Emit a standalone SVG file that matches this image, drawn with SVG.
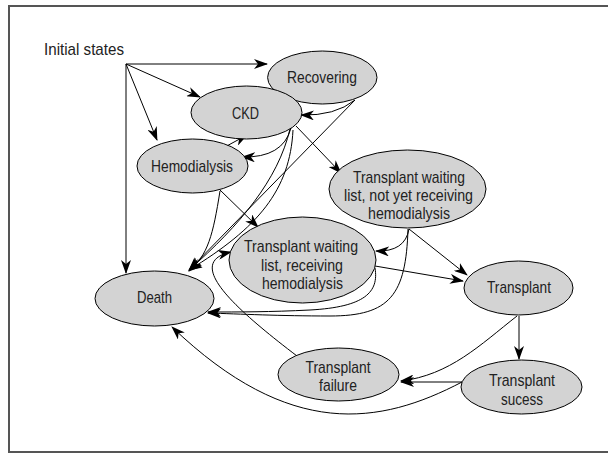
<svg xmlns="http://www.w3.org/2000/svg" width="608" height="455" viewBox="0 0 608 455">
<style>
.n ellipse{fill:#d3d3d3;stroke:#000;stroke-width:1}
text{font-family:"Liberation Sans",Arial,sans-serif;font-size:17px;fill:#222;text-anchor:middle}
.e path{fill:none;stroke:#000;stroke-width:1;marker-end:url(#ah)}
</style>
<defs>
<marker id="ah" viewBox="0 0 14 10" refX="13" refY="5" markerWidth="14" markerHeight="10" markerUnits="userSpaceOnUse" orient="auto">
<path d="M0,0 L14,5 L0,10 L4,5 Z" fill="#000"/>
</marker>
</defs>
<rect x="9" y="6" width="602" height="446" fill="#fff" stroke="#555" stroke-width="2"/>
<text id="initial" x="44" y="55" textLength="80" lengthAdjust="spacingAndGlyphs" style="text-anchor:start">Initial states</text>
<g class="e" id="connectors">
<path d="M126,64 L267,64"/>
<path d="M126,64 L200,97"/>
<path d="M126,64 L157,140"/>
<path d="M126,64 L126,273"/>
<path d="M279,107 L312,87"/>
<path d="M355,100 Q335,116 301,115"/>
<path d="M212,154 L247,135"/>
<path d="M291,128 Q283,158 242,157"/>
<path d="M296,126 L341,173"/>
<path d="M355,100 L189,270"/>
<path d="M290,129 C278,180 240,225 189,270"/>
<path d="M293,130 C290,190 258,228 189,270"/>
<path d="M220,191 C213,235 208,255 189,271"/>
<path d="M220,190 L258,227"/>
<path d="M409,229 Q405,252 376,251"/>
<path d="M409,229 L467,275"/>
<path d="M375,266 L463,281"/>
<path d="M408,229 C406,295 390,316 330,316 C280,316 240,314 208,313"/>
<path d="M375,268 C379,292 365,307 310,310 C270,312 240,312 208,312"/>
<path d="M519,316 L519,359"/>
<path d="M517,316 C480,345 450,375 401,381"/>
<path d="M462,382 L401,382"/>
<path d="M462,382 C380,425 290,440 172,327"/>
<path d="M297,356 C230,305 185,262 231,252"/>
</g>
<g class="n" id="recovering"><ellipse cx="322.3" cy="77.5" rx="54.7" ry="26.5"/><text x="322" y="83" textLength="70" lengthAdjust="spacingAndGlyphs">Recovering</text></g>
<g class="n" id="ckd"><ellipse cx="246.5" cy="112.5" rx="55.5" ry="26.5"/><text x="245.5" y="119" textLength="27" lengthAdjust="spacingAndGlyphs">CKD</text></g>
<g class="n" id="hemodialysis"><ellipse cx="192.5" cy="166" rx="55.5" ry="27"/><text x="192" y="172" textLength="82" lengthAdjust="spacingAndGlyphs">Hemodialysis</text></g>
<g class="n" id="twl-not-yet"><ellipse cx="407.5" cy="189" rx="78.5" ry="39"/>
<text x="409" y="183" textLength="112" lengthAdjust="spacingAndGlyphs">Transplant waiting</text>
<text x="408.5" y="201" textLength="129" lengthAdjust="spacingAndGlyphs">list, not yet receiving</text>
<text x="409" y="219" textLength="82" lengthAdjust="spacingAndGlyphs">hemodialysis</text></g>
<g class="n" id="twl-receiving"><ellipse cx="302.5" cy="260" rx="73.5" ry="43"/>
<text x="301" y="252" textLength="114" lengthAdjust="spacingAndGlyphs">Transplant waiting</text>
<text x="302" y="270.5" textLength="82" lengthAdjust="spacingAndGlyphs">list, receiving</text>
<text x="302.5" y="289" textLength="81" lengthAdjust="spacingAndGlyphs">hemodialysis</text></g>
<g class="n" id="transplant"><ellipse cx="518.5" cy="288" rx="54.5" ry="27"/><text x="519" y="293" textLength="64" lengthAdjust="spacingAndGlyphs">Transplant</text></g>
<g class="n" id="success"><ellipse cx="521.5" cy="387" rx="60.5" ry="27"/>
<text x="522" y="386" textLength="66" lengthAdjust="spacingAndGlyphs">Transplant</text>
<text x="522" y="405" textLength="42" lengthAdjust="spacingAndGlyphs">sucess</text></g>
<g class="n" id="failure"><ellipse cx="338.5" cy="374.5" rx="60.5" ry="26.5"/>
<text x="338" y="373" textLength="65" lengthAdjust="spacingAndGlyphs">Transplant</text>
<text x="338" y="391" textLength="38" lengthAdjust="spacingAndGlyphs">failure</text></g>
<g class="n" id="death"><ellipse cx="154.5" cy="298.5" rx="59.5" ry="27.5"/><text x="154.5" y="303" textLength="35" lengthAdjust="spacingAndGlyphs">Death</text></g>
</svg>
